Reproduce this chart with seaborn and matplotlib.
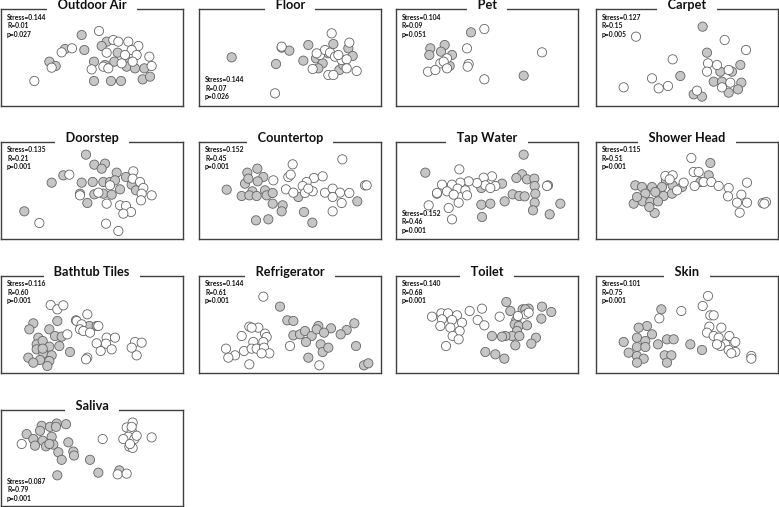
import numpy as np
import pandas as pd
import matplotlib
matplotlib.use("Agg")
import matplotlib.pyplot as plt
import seaborn as sns

# ---------------- data (NMDS scores) ----------------
TITLES = ["Outdoor Air", "Floor", "Pet", "Carpet",
          "Doorstep", "Countertop", "Tap Water", "Shower Head",
          "Bathtub Tiles", "Refrigerator", "Toilet", "Skin",
          "Saliva"]
STRESS = ["0.144", "0.144", "0.104", "0.127",
          "0.135", "0.152", "0.152", "0.115",
          "0.116", "0.144", "0.140", "0.101",
          "0.087"]
R_VALUES = ["0.01", "0.07", "0.09", "0.15",
            "0.21", "0.45", "0.46", "0.51",
            "0.60", "0.61", "0.68", "0.75",
            "0.79"]
P_VALUES = ["0.027", "0.026", "0.051", "0.005",
            "0.001", "0.001", "0.001", "0.001",
            "0.001", "0.001", "0.001", "0.001",
            "0.001"]

OUTDOOR_AIR_GREY = [(245,105),(195,147),(253,150),(148,185),(167,198),(320,125),(305,138),(353,158),(282,185),(315,195),(343,185),(378,178),(380,200),(405,205),(433,205),(282,243),(333,243),(363,243),(428,238),(450,230)]
OUTDOOR_AIR_WHITE = [(297,93),(103,243),(185,157),(216,145),(155,203),(340,120),(355,125),(385,125),(415,138),(320,158),(395,150),(375,165),(410,165),(448,170),(275,208),(310,200),(325,205),(398,185),(455,198),(365,190)]

FLOOR_GREY = [(695,172),(828,192),(845,143),(868,152),(925,135),(910,182),(1000,132),(948,175),(968,190),(955,205),(985,160),(1018,210),(1045,145),(1058,168),(1030,195)]
FLOOR_WHITE = [(995,100),(845,140),(1048,128),(938,207),(960,165),(975,150),(990,158),(1005,170),(1025,180),(1040,178),(985,225),(1000,225),(1040,205),(1070,213),(825,280),(1015,165),(950,160)]

PET_GREY = [(247,97),(125,145),(122,165),(168,135),(157,155),(190,165),(183,198),(405,227)]
PET_WHITE = [(287,87),(235,145),(460,157),(175,175),(155,190),(165,185),(118,215),(140,210),(175,205),(240,192),(237,200),(287,238)]

CARPET_GREY = [(942,80),(955,158),(875,228),(1055,195),(995,215),(1030,215),(975,245),(1058,248),(1048,268),(1020,278),(915,283),(940,290),(1000,245)]
CARPET_WHITE = [(742,110),(1008,120),(1072,150),(852,178),(958,190),(985,195),(955,215),(1020,210),(790,235),(810,265),(838,258),(705,262),(925,272),(1000,262),(1025,248)]

DOORSTEP_GREY = [(258,68),(283,98),(315,95),(305,110),(190,130),(155,152),(245,152),(278,150),(310,150),(330,150),(350,122),(345,145),(378,135),(395,158),(240,185),(283,187),(310,185),(335,188),(360,172),(262,213),(73,238),(408,175)]
DOORSTEP_WHITE = [(208,128),(400,118),(398,140),(420,150),(430,168),(425,185),(455,190),(240,190),(295,182),(320,215),(360,220),(378,222),(393,240),(370,245),(423,205),(118,273),(318,275),(355,297),(330,160)]

COUNTERTOP_GREY = [(680,173),(742,122),(772,110),(790,135),(735,155),(773,148),(757,178),(725,192),(748,190),(770,192),(795,175),(800,190),(818,183),(818,215),(848,220),(845,238),(895,195),(912,240),(768,265),(805,262),(937,272),(1072,208),(745,140)]
COUNTERTOP_WHITE = [(1027,82),(878,97),(820,145),(865,135),(872,128),(942,138),(968,133),(920,150),(908,162),(858,172),(880,182),(915,183),(938,178),(975,182),(998,170),(1020,182),(1048,183),(998,195),(1025,213),(998,238),(1095,160),(1100,160),(925,170)]

TAP_WATER_GREY = [(405,68),(110,122),(400,127),(383,138),(415,142),(437,140),(438,162),(478,160),(340,155),(278,168),(440,185),(372,187),(392,192),(408,193),(348,208),(278,218),(305,215),(438,212),(433,235),(515,215),(483,247),(280,255),(145,185)]
TAP_WATER_WHITE = [(212,112),(310,133),(285,137),(290,160),(320,162),(305,168),(265,153),(240,148),(215,152),(190,158),(160,158),(175,178),(207,170),(230,175),(195,188),(235,190),(210,212),(180,228),(120,220),(190,262),(475,162),(145,183)]

SHOWER_HEAD_GREY = [(965,93),(960,130),(935,150),(740,160),(760,165),(790,165),(832,145),(820,165),(852,160),(880,165),(770,185),(800,180),(825,192),(850,185),(735,215),(762,208),(785,210),(808,208),(798,243),(782,225),(745,195)]
SHOWER_HEAD_WHITE = [(908,78),(915,120),(930,120),(830,132),(852,130),(843,142),(885,152),(918,162),(945,150),(968,150),(990,162),(1020,168),(1075,152),(1018,193),(1058,188),(1045,212),(1075,212),(1053,242),(1122,213),(1132,210),(1127,215),(865,175)]

BATHTUB_TILES_GREY = [(100,172),(88,190),(148,190),(172,165),(228,163),(268,180),(290,180),(165,210),(185,212),(115,215),(110,235),(128,225),(110,250),(148,242),(178,240),(210,258),(130,262),(155,268),(85,275),(120,282),(100,290),(148,285),(142,300),(128,248)]
BATHTUB_TILES_WHITE = [(152,117),(172,130),(190,118),(262,145),(230,165),(245,175),(240,190),(250,195),(270,200),(202,205),(295,180),(320,215),(345,215),(290,232),(318,233),(302,255),(335,250),(405,228),(425,230),(395,245),(410,268),(262,275),(258,280)]

REFRIGERATOR_GREY = [(840,122),(862,163),(880,165),(955,180),(993,187),(1063,172),(1040,192),(1022,205),(880,208),(900,205),(915,195),(935,210),(950,190),(972,200),(918,228),(962,235),(968,258),(985,245),(1068,240),(925,275),(1092,298),(1105,292)]
REFRIGERATOR_WHITE = [(790,92),(748,182),(775,185),(755,185),(795,203),(800,213),(725,210),(760,228),(790,228),(678,248),(705,268),(685,275),(732,255),(755,248),(770,248),(792,245),(808,262),(870,240),(748,295),(958,298),(785,262)]

TOILET_GREY = [(353,108),(365,135),(402,130),(420,128),(460,122),(488,138),(458,158),(383,162),(378,175),(390,180),(415,178),(385,195),(370,210),(350,210),(340,212),(310,210),(392,210),(442,215),(428,233),(380,238),(290,258),(320,265),(347,278),(410,130)]
TOILET_WHITE = [(130,152),(158,142),(178,142),(205,148),(160,160),(190,162),(220,170),(155,180),(185,185),(213,195),(192,210),(210,220),(172,240),(243,135),(280,128),(267,162),(287,178),(333,152),(412,145),(420,140),(388,150)]

SKIN_GREY = [(818,130),(775,180),(750,185),(790,205),(745,215),(770,225),(705,228),(745,243),(770,243),(720,260),(745,270),(765,278),(745,290),(808,235),(835,220),(855,220),(905,235),(940,252),(828,268),(848,268),(835,290)]
SKIN_WHITE = [(958,90),(942,120),(878,135),(812,157),(965,148),(975,148),(962,182),(998,185),(955,200),(975,210),(990,215),(1022,210),(1040,228),(1010,235),(995,240),(1020,252),(1040,258),(1028,262),(985,235),(1088,270),(1088,278)]

SALIVA_GREY = [(125,85),(150,88),(170,78),(198,80),(168,88),(120,100),(80,110),(100,125),(128,130),(155,118),(105,145),(138,147),(160,142),(205,135),(175,165),(220,163),(222,175),(185,188),(270,188),(295,227),(172,235),(358,220),(148,140)]
SALIVA_WHITE = [(65,140),(308,125),(398,75),(380,90),(395,100),(385,118),(370,125),(403,125),(410,115),(455,120),(388,148),(398,152),(390,140),(353,232),(380,230),(395,88)]

GREY_GROUPS = [OUTDOOR_AIR_GREY, FLOOR_GREY, PET_GREY, CARPET_GREY,
               DOORSTEP_GREY, COUNTERTOP_GREY, TAP_WATER_GREY, SHOWER_HEAD_GREY,
               BATHTUB_TILES_GREY, REFRIGERATOR_GREY, TOILET_GREY, SKIN_GREY,
               SALIVA_GREY]
WHITE_GROUPS = [OUTDOOR_AIR_WHITE, FLOOR_WHITE, PET_WHITE, CARPET_WHITE,
                DOORSTEP_WHITE, COUNTERTOP_WHITE, TAP_WATER_WHITE, SHOWER_HEAD_WHITE,
                BATHTUB_TILES_WHITE, REFRIGERATOR_WHITE, TOILET_WHITE, SKIN_WHITE,
                SALIVA_WHITE]

# ---------------- layout ----------------
sns.set_style("white")
plt.rcParams["font.family"] = ["Lato", "DejaVu Sans"]

W, H = 779, 507
fig = plt.figure(figsize=(W / 100, H / 100), dpi=100)
fig.patch.set_facecolor("white")

COL_LEFT = [1, 199, 396, 596]      # px
ROW_TOP = [9, 142, 276, 410]       # px
PW, PH = 182, 97                   # px
VIEW_X0 = [3, 597, 22, 622]        # view origin of each column
VIEW_Y0 = [27, 30, 30, 37]         # view origin of each row
VIEW_W, VIEW_H = 546, 291
STATS_AT_BOTTOM = {"Floor", "Tap Water", "Saliva"}

palette = {"grey": "#C6C6C6", "white": "#FFFFFF"}

for i, title in enumerate(TITLES):
    r, c = divmod(i, 4)
    ph = PH if r < 3 else 96
    ax = fig.add_axes([COL_LEFT[c] / W, 1 - (ROW_TOP[r] + ph) / H, PW / W, ph / H])
    g = pd.DataFrame(GREY_GROUPS[i], columns=["nmds1", "nmds2"]).assign(group="grey")
    w = pd.DataFrame(WHITE_GROUPS[i], columns=["nmds1", "nmds2"]).assign(group="white")
    df = pd.concat([g, w], ignore_index=True)
    sns.scatterplot(data=df, x="nmds1", y="nmds2", hue="group", palette=palette,
                    s=44, edgecolor="#646464", linewidth=0.6, legend=False, ax=ax)
    ax.set_xlim(VIEW_X0[c], VIEW_X0[c] + VIEW_W)
    ax.set_ylim(VIEW_Y0[r] + VIEW_H, VIEW_Y0[r])
    ax.set_xticks([]); ax.set_yticks([])
    ax.set_xlabel(""); ax.set_ylabel("")
    for sp in ax.spines.values():
        sp.set_visible(True)
        sp.set_color("#404040")
        sp.set_linewidth(1.0)

    # title sitting on the top border, with a white mask breaking the line
    ax.text(0.5, 1 - 0.3 / ph, "\u2003" + title + "\u2003", transform=ax.transAxes,
            ha="center", va="baseline", fontsize=9.2, fontweight="bold",
            color="#111111", zorder=5, clip_on=False,
            bbox=dict(facecolor="white", edgecolor="none", boxstyle="square,pad=0.05"))

    lines = ["Stress=" + STRESS[i], "R=" + R_VALUES[i], "p=" + P_VALUES[i]]
    ys = [71, 79.5, 88] if title in STATS_AT_BOTTOM else [8, 16.5, 25]
    for txt, yp in zip(lines, ys):
        ax.text(6 / PW, 1 - yp / ph, txt, transform=ax.transAxes, ha="left",
                va="center", fontsize=4.9, fontweight="bold", color="#111111",
                zorder=6)

fig.savefig("out.png", dpi=100, facecolor="white")
